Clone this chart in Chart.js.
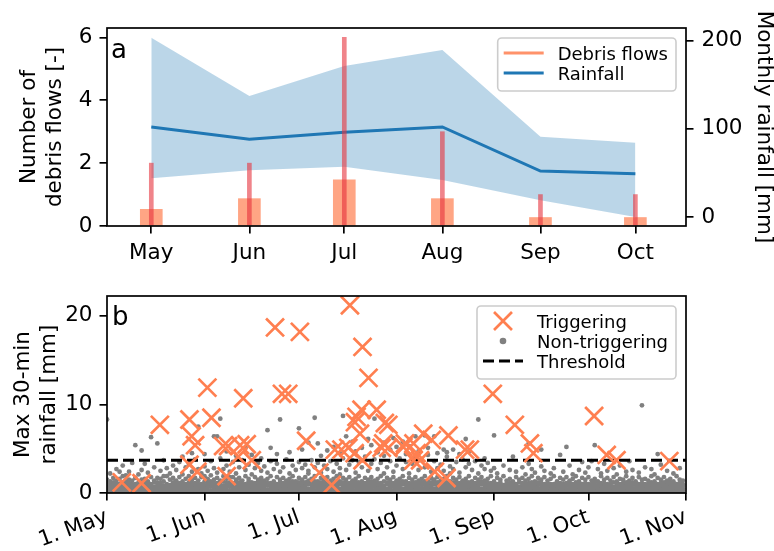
<!DOCTYPE html>
<html>
<head>
<meta charset="utf-8">
<script src="https://cdn.jsdelivr.net/npm/chart.js@4.4.1/dist/chart.umd.min.js"></script>
<style>
  html, body { margin: 0; padding: 0; background: #fff; }
  #wrap { position: relative; width: 774px; height: 551px; }
  canvas { position: absolute; left: 0; }
  #monthly { top: 0; }
  #events { top: 270px; }
</style>
</head>
<body>
<div id="wrap">
  <canvas id="monthly" width="774" height="270"></canvas>
  <canvas id="events" width="774" height="281"></canvas>
</div>
<script>
// ---------- Panel a: monthly statistics ----------
const months = ['May', 'Jun', 'Jul', 'Aug', 'Sep', 'Oct'];
const monthStartDay = [0, 31, 61, 92, 123, 153];          // days after 1 May
const debrisMean = [0.53, 0.87, 1.47, 0.87, 0.27, 0.27];   // mean number per year
const debrisMax = [2, 2, 6, 3, 1, 1];                       // maximum in a single year
const rainMean = [102, 88, 96, 102, 52, 49];                // mm
const rainUpper = [203, 137, 171, 189, 91, 84];             // mm
const rainLower = [44, 53, 57, 42, 19, 0];                  // mm
const debrisTicks = [0, 2, 4, 6];
const rainTicks = [0, 100, 200];

// ---------- Panel b: daily 30-min maxima ----------
const dateTickDays = [0, 31, 61, 92, 123, 153, 184];
const dateTickLabels = ['1. May', '1. Jun', '1. Jul', '1. Aug', '1. Sep', '1. Oct', '1. Nov'];
const intensityTicks = [0, 10, 20];
const threshold = 3.7;                                      // mm in 30 min

// [day after 1 May, max 30-min rainfall in mm]
const triggering = [
  [4.7, 1.2], [11, 1.1], [16.8, 7.7], [26.2, 8.3], [26.9, 6.4], [28, 5.4], [26.2, 3.2], [28.7, 2.4],
  [31.9, 11.9], [33.2, 8.5], [36.9, 5.3], [38.5, 5.3], [38, 1.9], [43.3, 10.7], [42.3, 5.4], [44.4, 5.5],
  [41.7, 4.1], [46, 3.7], [53.4, 18.7], [55.6, 11.2], [57.6, 11.2], [61.3, 18.2], [63.3, 5.9], [67.5, 2.3],
  [71.4, 0.9], [72.4, 4.9], [74.5, 4.9], [76.7, 5.1], [77.2, 21.2], [81.2, 16.5], [83.1, 13.0], [78.7, 4.5],
  [81.2, 3.7], [79.3, 8.6], [80.9, 9.4], [80.4, 6.7], [78.8, 8.0], [85.7, 9.4], [88.3, 7.9], [89.4, 7.7],
  [87.3, 5.1], [89.4, 5.1], [87.8, 5.6], [94.2, 5.2], [94.7, 5.6], [97.4, 5.6], [97.4, 3.7], [98.4, 4.5],
  [100.5, 6.7], [103.2, 6.0], [99.5, 3.7], [104.2, 2.4], [107.9, 1.7], [108.5, 6.5], [113.8, 4.9], [115.3, 4.9],
  [122.6, 11.2], [129.6, 7.7], [134.4, 5.6], [135.5, 4.5], [154.8, 8.7], [158.8, 4.3], [161.9, 3.7], [178.7, 3.6]
];

// One string per day from 1 May, values in tenths of a mm
const nonTriggeringByDay = [
  // May
  "0 1 3 6 8 11 15 83", "1 2 4 7 9 13 22", "0 2 4 6 10 12 17", "0 3 5 8 11 14 27", "1 3 5 8 10 16 24",
  "0 2 4 7 9 12 19 31", "0 2 5 7 9 13 20", "1 3 6 8 11 15 24", "0 3 4 8 10 14 34", "0 2 5 7 10 17 54",
  "1 4 6 7 9 12 21", "0 2 5 9 11 15 48 26", "0 3 6 9 11 16 33", "1 3 5 8 10 13 23", "0 2 5 7 10 18 63",
  "0 2 4 7 12 14 29", "1 4 6 9 12 17 56", "0 3 6 8 11 16 25", "0 3 5 8 13 19 37", "1 2 5 7 10 19 28",
  "0 2 4 7 9 15 22", "0 4 6 9 12 17 31", "1 3 6 9 11 14 26", "0 3 5 8 11 18 35", "0 2 5 8 10 13 21 41",
  "1 2 4 7 10 16 29", "0 3 7 9 12 19 33", "0 4 6 9 11 15 24 45", "1 3 5 8 11 17 38", "0 2 6 8 10 14 27 75",
  "0 2 4 7 10 18 22",
  // June
  "1 3 5 9 13 19 30 44", "0 3 6 8 12 16 25", "0 2 7 10 13 20 36", "1 4 6 8 11 15 28 64", "0 3 6 9 11 17 23 64",
  "0 2 5 9 12 14 39 84", "1 3 5 8 13 19 27", "0 3 6 8 11 16 31 47", "0 2 7 10 12 18 24", "1 4 6 9 11 18 35",
  "0 2 5 9 12 15 22 42", "0 3 6 9 12 17 29", "1 3 5 8 10 14 37", "0 2 5 7 10 19 26 51", "0 4 6 9 13 16 32",
  "1 3 7 9 12 21 43", "0 3 5 8 11 18 28", "0 2 5 8 12 15 34", "1 2 6 10 13 17 25 39", "0 3 6 9 12 14 30",
  "0 2 4 9 11 16 23 71", "1 3 6 8 11 19 36 51", "0 4 7 8 10 13 27", "0 2 5 7 10 18 33 44", "1 2 5 9 12 15 24 83",
  "0 3 6 9 11 17 29", "0 2 4 8 11 14 38", "1 3 6 8 12 16 22 46", "0 4 7 10 13 19 31", "0 2 5 9 12 13 26",
  // July
  "1 4 6 9 12 17 35 73", "0 2 5 8 11 15 28 49", "0 3 6 8 12 18 32", "1 3 5 10 14 22 25 57", "0 2 5 9 12 16 37",
  "0 3 7 9 13 19 29 85", "1 4 6 8 11 13 34 56", "0 2 5 8 12 17 23 42", "0 3 6 10 13 15 31", "1 3 5 9 12 18 27 48",
  "0 2 5 9 11 14 36", "0 4 6 8 11 16 24 52", "1 3 7 8 12 19 33", "0 2 5 10 13 21 28 45", "0 3 6 9 12 17 39 87",
  "1 3 5 9 11 15 26 64", "0 2 5 8 11 18 32", "0 4 6 8 12 14 37 58", "1 3 7 10 13 16 23 47", "0 2 5 9 12 19 35",
  "0 3 6 9 11 13 29 51", "1 3 5 8 11 17 41", "0 2 5 8 12 15 25 61", "0 4 6 10 13 18 33 54", "1 3 7 9 12 14 38 84",
  "0 2 5 9 11 16 27 46", "0 3 6 8 11 19 34", "1 3 5 8 13 22 42 57", "0 2 5 10 12 17 29", "0 4 7 9 12 15 36 49",
  "1 3 7 9 11 18 24 62",
  // August
  "0 2 5 8 11 14 31 52", "0 3 6 8 12 16 39", "1 3 5 10 13 19 27 58", "0 2 5 9 12 13 35 44", "0 4 6 9 11 17 22 53",
  "1 3 7 9 11 15 33", "0 2 5 8 12 18 40 64", "0 3 6 10 12 14 26 47", "1 3 5 9 12 16 37", "0 2 5 9 13 19 29 65",
  "0 4 6 8 11 13 43 51", "1 3 7 8 12 17 24", "0 2 5 10 13 15 36 64", "0 3 6 9 12 18 28 45", "1 3 5 9 11 14 32",
  "0 2 5 8 11 16 25 49", "0 4 6 8 12 19 41 46", "1 3 7 10 13 22 30", "0 2 5 9 12 17 27 49", "0 3 6 9 11 15 35",
  "1 3 5 8 11 18 23 44", "0 2 5 8 12 14 38", "0 4 6 10 13 16 29 61", "1 3 7 9 12 19 33 47", "0 2 5 9 11 13 26",
  "0 3 6 8 11 17 36", "1 3 5 8 12 15 22 83", "0 2 5 10 13 18 31", "0 4 6 9 12 14 27 39", "1 3 7 9 11 16 34",
  "0 2 5 8 11 19 25",
  // September
  "0 2 5 8 10 13 28 65", "0 3 5 7 10 17 22", "1 2 6 9 12 15", "0 2 4 7 9 19 31", "0 2 5 7 11 14",
  "1 3 5 8 11 16 26", "0 3 5 8 10 13 41", "0 2 6 8 10 18 24", "1 3 4 7 12 15", "0 2 5 9 11 17 29",
  "0 3 5 7 10 14 21", "1 3 6 8 11 16 33 56", "0 2 6 8 12 19 27", "0 2 4 7 10 13 23", "1 2 5 9 12 17",
  "0 3 5 9 11 15 30 49", "0 3 5 7 10 18 25", "1 2 6 8 11 14", "0 2 4 8 10 16 22", "0 2 5 7 10 19 28",
  "1 3 5 9 12 13", "0 3 6 9 11 17 43", "0 2 6 7 10 15 24", "1 2 4 8 11 18 52", "0 2 5 8 12 14 31",
  "0 3 5 7 10 16 21", "1 3 6 9 12 19", "0 2 6 9 11 13 26", "0 2 4 7 10 17 35", "1 2 5 8 11 15 23",
  // October
  "0 3 5 8 10 18 29", "0 3 6 8 10 14 36", "1 2 6 9 12 16 54", "0 2 4 7 9 13 27", "0 2 5 7 11 19 22",
  "1 3 5 8 11 15 33", "0 3 4 8 10 17 25", "0 2 6 8 10 14", "1 2 4 7 12 18 28", "0 2 5 9 11 13 21",
  "0 3 5 7 10 16 31", "1 3 6 8 11 15", "0 2 6 8 12 19 24", "0 2 4 7 10 14 36", "1 2 5 9 12 17 26",
  "0 3 5 9 11 13", "0 3 5 7 10 18 23", "1 2 6 8 11 15 99", "0 2 4 8 10 16 29", "0 2 5 7 10 14",
  "1 3 5 9 12 19 27", "0 3 6 9 11 13 21", "0 2 6 7 10 17 44", "1 2 4 8 11 15 32", "0 2 5 8 12 18",
  "0 3 5 7 10 14 25", "1 3 6 9 12 16", "0 2 6 9 11 13 22", "0 2 4 7 10 19", "1 2 5 8 11 15 28",
  "0 3 5 8 10 14"
];

// ---------- shared styling ----------
const FONT = '"DejaVu Sans", sans-serif';
const TICK_SIZE = 21.5;
Chart.defaults.font.family = FONT;
Chart.defaults.color = '#000';

const setTicks = values => scale => { scale.ticks = values.map(v => ({ value: v })); };

function tickGrid() {
  return { offset: false, drawOnChartArea: false, drawTicks: true, tickLength: 7.5, color: '#000', lineWidth: 1.7 };
}

// black box around the plotting area
const framePlugin = {
  id: 'frame',
  afterDatasetsDraw(chart) {
    const { ctx, chartArea: a } = chart;
    ctx.save();
    ctx.strokeStyle = '#000';
    ctx.lineWidth = 1.7;
    ctx.strokeRect(a.left, a.top, a.right - a.left, a.bottom - a.top);
    ctx.restore();
  }
};

// panel letter in the upper left corner
const tagPlugin = {
  id: 'panelTag',
  afterDraw(chart, args, opts) {
    const { ctx, chartArea: a } = chart;
    ctx.save();
    ctx.font = `${opts.size}px ${FONT}`;
    ctx.fillStyle = '#000';
    ctx.textBaseline = 'alphabetic';
    ctx.fillText(opts.text, a.left + opts.dx, a.top + opts.dy);
    ctx.restore();
  }
};

// framed legend in the upper right corner of the plotting area
const boxLegendPlugin = {
  id: 'boxLegend',
  afterDraw(chart, args, opts) {
    const { ctx, chartArea: a } = chart;
    const fs = opts.fontSize;
    ctx.save();
    ctx.font = `${fs}px ${FONT}`;
    const rows = opts.items.map(it => ({ ...it, ds: chart.data.datasets[it.dataset] }));
    const textW = Math.max(...rows.map(r => ctx.measureText(r.ds.label).width));
    const w = opts.padLeft + opts.handleLen + opts.handleGap + textW + opts.padRight;
    const h = opts.padTop + (rows.length - 1) * opts.rowGap + opts.padBottom;
    const x0 = a.right - opts.inset - w;
    const y0 = a.top + opts.inset;

    ctx.beginPath();
    ctx.roundRect(x0, y0, w, h, 4);
    ctx.fillStyle = 'rgba(255,255,255,0.8)';
    ctx.fill();
    ctx.strokeStyle = '#cccccc';
    ctx.lineWidth = 1.6;
    ctx.stroke();

    rows.forEach((r, i) => {
      const cy = y0 + opts.padTop + i * opts.rowGap;
      const hx = x0 + opts.padLeft;
      const cx = hx + opts.handleLen / 2;
      ctx.save();
      if (r.kind === 'line' || r.kind === 'dash') {
        ctx.strokeStyle = r.color || r.ds.borderColor;
        ctx.lineWidth = 3;
        ctx.setLineDash(r.kind === 'dash' ? r.ds.borderDash : []);
        ctx.beginPath();
        ctx.moveTo(hx, cy);
        ctx.lineTo(hx + opts.handleLen, cy);
        ctx.stroke();
      } else if (r.kind === 'cross') {
        const s = r.ds.pointRadius * Math.SQRT1_2;
        ctx.strokeStyle = r.ds.borderColor;
        ctx.lineWidth = r.ds.borderWidth;
        ctx.beginPath();
        ctx.moveTo(cx - s, cy - s); ctx.lineTo(cx + s, cy + s);
        ctx.moveTo(cx + s, cy - s); ctx.lineTo(cx - s, cy + s);
        ctx.stroke();
      } else if (r.kind === 'dot') {
        ctx.fillStyle = r.ds.backgroundColor;
        ctx.beginPath();
        ctx.arc(cx, cy, 3.3, 0, Math.PI * 2);
        ctx.fill();
      }
      ctx.restore();
      ctx.fillStyle = '#000';
      ctx.textBaseline = 'alphabetic';
      ctx.fillText(r.ds.label, hx + opts.handleLen + opts.handleGap, cy + fs * 0.365);
    });
    ctx.restore();
  }
};

// ---------- panel a ----------
const atMonth = values => monthStartDay.map((d, i) => ({ x: d, y: values[i] }));

new Chart(document.getElementById('monthly'), {
  type: 'bar',
  data: {
    datasets: [
      {
        type: 'bar', label: 'Debris flows', data: atMonth(debrisMean),
        backgroundColor: 'rgba(255,127,80,0.7)', barThickness: 22, grouped: false,
        yAxisID: 'y', order: 1
      },
      {
        type: 'bar', label: 'Debris flows (max)',
        data: monthStartDay.map((d, i) => ({ x: d, y: [0, debrisMax[i]] })),
        backgroundColor: 'rgba(230,50,60,0.6)', barThickness: 4, grouped: false,
        yAxisID: 'y', order: 0
      },
      {
        type: 'line', label: 'Rainfall', data: atMonth(rainMean),
        borderColor: '#1f77b4', borderWidth: 3, pointRadius: 0, tension: 0, fill: false,
        yAxisID: 'y2', order: 2
      },
      {
        type: 'line', label: 'Rainfall upper', data: atMonth(rainUpper),
        borderColor: 'rgba(0,0,0,0)', borderWidth: 0, pointRadius: 0, tension: 0,
        backgroundColor: 'rgba(31,119,180,0.3)', fill: '+1',
        yAxisID: 'y2', order: 3
      },
      {
        type: 'line', label: 'Rainfall lower', data: atMonth(rainLower),
        borderColor: 'rgba(0,0,0,0)', borderWidth: 0, pointRadius: 0, tension: 0, fill: false,
        yAxisID: 'y2', order: 4
      }
    ]
  },
  options: {
    responsive: false, animation: false, devicePixelRatio: 1,
    layout: { padding: { top: 28, left: 0, right: 0, bottom: 0 } },
    events: [],
    plugins: {
      legend: { display: false }, tooltip: { enabled: false },
      panelTag: { text: 'a', size: 26, dx: 4, dy: 30 },
      boxLegend: {
        fontSize: 18, inset: 10, padLeft: 6, padRight: 8, padTop: 15, padBottom: 18,
        rowGap: 20, handleLen: 40, handleGap: 14,
        items: [
          { dataset: 0, kind: 'line', color: 'rgba(255,127,80,0.85)' },
          { dataset: 2, kind: 'line' }
        ]
      }
    },
    scales: {
      x: {
        type: 'linear', min: -14, max: 169, offset: false,
        border: { display: false }, grid: tickGrid(),
        afterBuildTicks: setTicks(monthStartDay),
        ticks: {
          font: { size: TICK_SIZE }, color: '#000', padding: 7, autoSkip: false, maxRotation: 0,
          callback: v => months[monthStartDay.indexOf(v)]
        },
        afterFit: s => { s.height = 44; }
      },
      y: {
        type: 'linear', position: 'left', min: 0, max: 6.3,
        border: { display: false }, grid: tickGrid(),
        afterBuildTicks: setTicks(debrisTicks),
        ticks: { font: { size: TICK_SIZE }, color: '#000', padding: 7 },
        title: {
          display: true, text: ['Number of', 'debris flows [-]'],
          font: { size: TICK_SIZE }, color: '#000', padding: { top: 17, bottom: 0 }
        },
        afterFit: s => { s.width = 107; }
      },
      y2: {
        type: 'linear', position: 'right', min: -10.2, max: 214,
        border: { display: false }, grid: tickGrid(),
        afterBuildTicks: setTicks(rainTicks),
        ticks: { font: { size: TICK_SIZE }, color: '#000', padding: 8 },
        title: {
          display: true, text: 'Monthly rainfall [mm]',
          font: { size: TICK_SIZE }, color: '#000', padding: { top: -2, bottom: 0 }
        },
        afterFit: s => { s.width = 88; }
      }
    }
  },
  plugins: [framePlugin, tagPlugin, boxLegendPlugin]
});

// ---------- panel b ----------
const nonTriggeringPoints = [];
nonTriggeringByDay.forEach((row, day) => {
  row.split(' ').forEach(t => nonTriggeringPoints.push({ x: day, y: Number(t) / 10 }));
});

new Chart(document.getElementById('events'), {
  type: 'scatter',
  data: {
    datasets: [
      {
        label: 'Triggering', data: triggering.map(([d, v]) => ({ x: d, y: v })),
        pointStyle: 'crossRot', pointRadius: 12.7, borderColor: '#ff7f50', backgroundColor: '#ff7f50',
        borderWidth: 2.7, order: 0
      },
      {
        label: 'Non-triggering', data: nonTriggeringPoints,
        pointStyle: 'circle', pointRadius: 2.4, backgroundColor: '#808080', borderWidth: 0,
        clip: 0, order: 2
      },
      {
        type: 'line', label: 'Threshold',
        data: [{ x: dateTickDays[0], y: threshold }, { x: dateTickDays[dateTickDays.length - 1], y: threshold }],
        borderColor: '#000', borderWidth: 3, borderDash: [11, 5], pointRadius: 0, fill: false, order: 1
      }
    ]
  },
  options: {
    responsive: false, animation: false, devicePixelRatio: 1,
    layout: { padding: { top: 26, left: 0, right: 88, bottom: 0 } },
    events: [],
    plugins: {
      legend: { display: false }, tooltip: { enabled: false },
      panelTag: { text: 'b', size: 26, dx: 5, dy: 29 },
      boxLegend: {
        fontSize: 18, inset: 10, padLeft: 6, padRight: 8, padTop: 15, padBottom: 18,
        rowGap: 20, handleLen: 40, handleGap: 14,
        items: [
          { dataset: 0, kind: 'cross' },
          { dataset: 1, kind: 'dot' },
          { dataset: 2, kind: 'dash' }
        ]
      }
    },
    scales: {
      x: {
        type: 'linear', min: 0, max: 184,
        border: { display: false }, grid: tickGrid(),
        afterBuildTicks: setTicks(dateTickDays),
        ticks: {
          font: { size: TICK_SIZE }, color: '#000', padding: 4, autoSkip: false,
          minRotation: 20, maxRotation: 20,
          callback: v => dateTickLabels[dateTickDays.indexOf(v)]
        },
        afterFit: s => { s.height = 58; }
      },
      y: {
        type: 'linear', min: 0, max: 22.25,
        border: { display: false }, grid: tickGrid(),
        afterBuildTicks: setTicks(intensityTicks),
        ticks: { font: { size: TICK_SIZE }, color: '#000', padding: 7 },
        title: {
          display: true, text: ['Max 30-min', 'rainfall [mm]'],
          font: { size: TICK_SIZE }, color: '#000', padding: { top: 11, bottom: 0 }
        },
        afterFit: s => { s.width = 107; }
      }
    }
  },
  plugins: [framePlugin, tagPlugin, boxLegendPlugin]
});
</script>
</body>
</html>
